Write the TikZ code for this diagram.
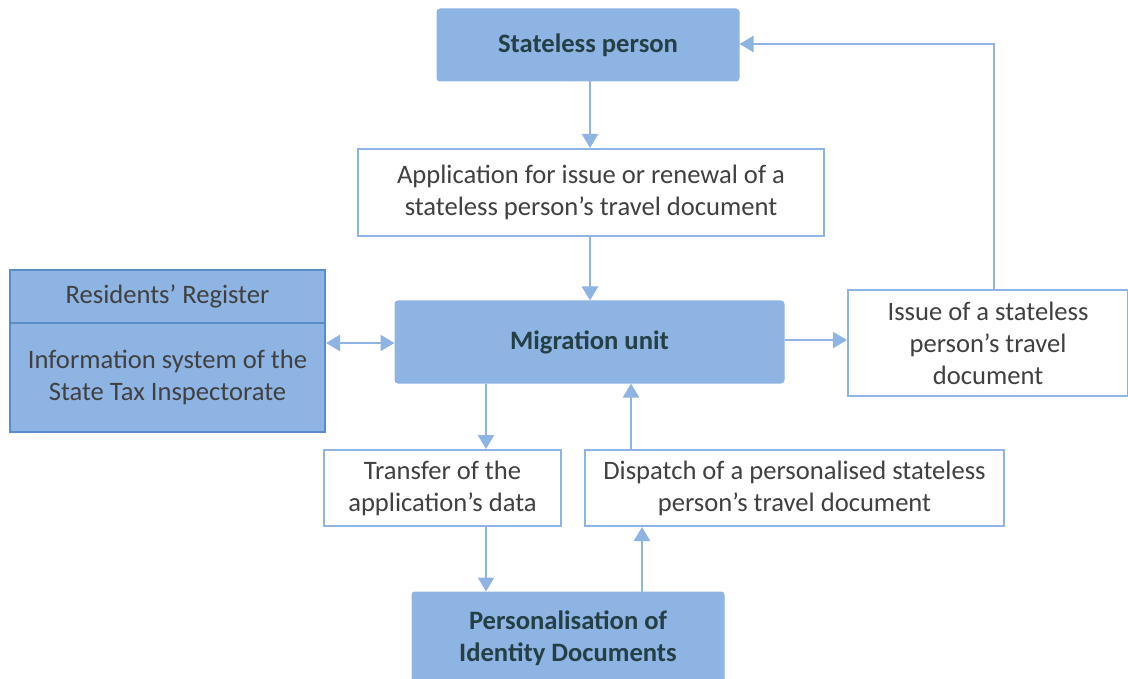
\documentclass[tikz,border=0pt]{standalone}
\usepackage{fontspec}
\setmainfont{Carlito}
\usetikzlibrary{arrows.meta}
\definecolor{lblue}{HTML}{8EB4E3}
\definecolor{dblue}{HTML}{5A8CC8}
\definecolor{tdark}{HTML}{243F45}
\definecolor{tgray}{HTML}{404040}
\begin{document}
\begin{tikzpicture}[x=1pt,y=1pt,
  every node/.style={font=\fontsize{26.6}{32}\selectfont, align=center, inner sep=0pt},
  filled/.style={fill=lblue, draw=lblue, line width=1pt, rounded corners=3pt, text=tdark, font=\fontsize{26.6}{32}\selectfont\bfseries},
  plain/.style={fill=white, draw=lblue, line width=2pt, text=tgray},
  reg/.style={fill=lblue, draw=dblue, line width=2pt, text=tgray, minimum width=315},
  arr/.style={draw=lblue, line width=2.5pt, -{Triangle[width=16pt,length=14pt]}},
  darr/.style={draw=lblue, line width=2.5pt, {Triangle[width=16pt,length=14pt]}-{Triangle[width=16pt,length=14pt]}}]
\useasboundingbox (0,0) rectangle (1128,-679);
\begin{scope}
\clip (0,0) rectangle (1128,-679);
\node[filled, minimum width=302, minimum height=72] (stateless) at (588,-45) {Stateless person};
\node[plain, minimum width=466, minimum height=87] (app) at (591,-192.5) {Application for issue or renewal of a\\stateless person’s travel document};
\node[reg, minimum height=53] (regA) at (167.5,-296.5) {Residents’ Register};
\node[reg, minimum height=109] (regB) at (167.5,-377.5) {Information system of the\\State Tax Inspectorate};
\node[filled, minimum width=389, minimum height=82] (mig) at (589.5,-342) {Migration unit};
\node[plain, minimum width=280, minimum height=106] (issue) at (988,-343) {Issue of a stateless\\person’s travel\\document};
\node[plain, minimum width=237, minimum height=76] (transfer) at (442.5,-488) {Transfer of the\\application’s data};
\node[plain, minimum width=419, minimum height=76] (dispatch) at (794.5,-488) {Dispatch of a personalised stateless\\person’s travel document};
\node[filled, minimum width=312, minimum height=92] (pers) at (568,-638) {Personalisation of\\Identity Documents};
\end{scope}
\draw[arr] (stateless.south -| 590,0) -- (app.north -| 590,0);
\draw[arr] (app.south -| 590,0) -- (mig.north -| 590,0);
\draw[darr] (regB.east |- 0,-343) -- (mig.west |- 0,-343);
\draw[arr] (mig.east |- 0,-340) -- (issue.west |- 0,-340);
\draw[arr] (issue.north -| 994,0) |- (stateless.east |- 0,-44);
\draw[arr] (mig.south -| 486,0) -- (transfer.north -| 486,0);
\draw[arr] (dispatch.north -| 631,0) -- (mig.south -| 631,0);
\draw[arr] (transfer.south -| 486,0) -- (pers.north -| 486,0);
\draw[arr] (pers.north -| 642,0) -- (dispatch.south -| 642,0);
\end{tikzpicture}
\end{document}
